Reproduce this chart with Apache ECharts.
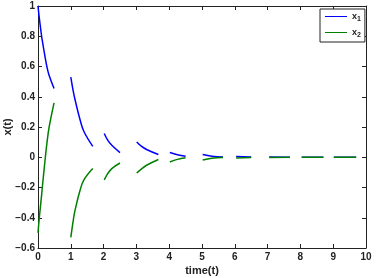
<!DOCTYPE html>
<html>
<head>
<meta charset="utf-8">
<script src="https://cdn.jsdelivr.net/npm/echarts@6/dist/echarts.min.js"></script>
<style>
  html, body { margin: 0; padding: 0; background: #fff; }
  #box { width: 376px; height: 278px; }
</style>
</head>
<body>
<div id="box"></div>
<script>
// time points, null values break the line (impulse gaps)
const t  = [0, 0.04, 0.11, 0.14, 0.21, 0.27, 0.34, 0.49, 0.7,
            1.0, 1.08, 1.13, 1.28, 1.4, 1.67, 1.85,
            2.02, 2.12, 2.25, 2.5, 2.75,
            3.01, 3.15, 3.31, 3.67, 3.85,
            4.02, 4.25, 4.5, 4.75,
            5.02, 5.3, 5.64, 5.8,
            6.04, 6.5, 6.75,
            7.05, 7.68, 7.85,
            8.04, 8.7, 8.85,
            9.02, 9.7];
const x1 = [1.0, 0.92, 0.8, 0.76, 0.67, 0.6, 0.54, 0.455, null,
            0.53, 0.43, 0.38, 0.25, 0.17, 0.072, null,
            0.157, 0.115, 0.079, 0.031, null,
            0.101, 0.073, 0.051, 0.018, null,
            0.031, 0.016, 0.007, null,
            0.018, 0.007, 0.002, null,
            0.005, 0.001, null,
            0.002, 0, null,
            0, 0, null,
            0, 0];
const x2 = [-0.5, -0.4, -0.25, -0.18, -0.03, 0.09, 0.2, 0.36, null,
            -0.53, -0.41, -0.35, -0.22, -0.15, -0.075, null,
            -0.15, -0.11, -0.075, -0.038, null,
            -0.104, -0.078, -0.053, -0.015, null,
            -0.031, -0.014, -0.004, null,
            -0.018, -0.007, -0.002, null,
            -0.005, -0.001, null,
            -0.002, 0, null,
            0, 0, null,
            0, 0];
const names = ["x1", "x2"];
const colors = ["#0000ff", "#008000"];

let chart = echarts.init(document.getElementById("box"), null, { renderer: "canvas" });

const font = "'Liberation Sans', Arial, sans-serif";
const fmtY = v => (v < 0 ? "\u2212" + Math.abs(v) : String(v));

function axisBase(extra) {
  return Object.assign({
    type: "value",
    axisLine: { show: true, onZero: false, lineStyle: { color: "#222", width: 1 } },
    axisTick: { show: true, inside: true, length: 4, lineStyle: { color: "#222" } },
    splitLine: { show: false },
    axisLabel: { color: "#222", fontSize: 10, fontWeight: "bold", fontFamily: font }
  }, extra);
}

let series = [x1, x2].map((arr, k) => ({
  type: "line",
  name: names[k],
  xAxisIndex: 0,
  yAxisIndex: 0,
  symbol: "none",
  smooth: 0.4,
  connectNulls: false,
  color: colors[k],
  lineStyle: { width: 1.5, color: colors[k] },
  data: t.map((ti, i) => [ti, arr[i] == null ? "-" : arr[i]])
}));

let option = {
  animation: false,
  backgroundColor: "#fff",
  grid: { left: 38, right: 10, top: 6, bottom: 30, containLabel: false, outerBoundsMode: "none" },
  legend: {
    left: 320, top: 9,
    orient: "vertical",
    backgroundColor: "#fff",
    borderColor: "#222", borderWidth: 1,
    padding: [3, 4, 3, 5],
    icon: "rect",
    itemWidth: 22, itemHeight: 1, itemGap: 5,
    textStyle: {
      color: "#222", fontFamily: font,
      rich: {
        b: { fontSize: 9, fontWeight: "bold", fontFamily: font, color: "#222" },
        s: { fontSize: 7, fontWeight: "bold", fontFamily: font, color: "#222", padding: [6, 0, 0, 0] }
      }
    },
    formatter: n => "{b|x}{s|" + n.slice(1) + "}",
    data: names
  },
  xAxis: [
    axisBase({
      min: 0, max: 10, interval: 1, position: "bottom",
      axisLabel: { color: "#222", fontSize: 10, fontWeight: "bold", fontFamily: font, margin: 4 },
      name: "time(t)", nameLocation: "middle", nameGap: 17, nameMoveOverlap: false,
      nameTextStyle: { color: "#222", fontSize: 11, fontWeight: "bold", fontFamily: font }
    }),
    axisBase({ min: 0, max: 10, interval: 1, position: "top", axisLabel: { show: false } })
  ],
  yAxis: [
    axisBase({
      min: -0.6, max: 1, interval: 0.2, position: "left",
      axisLabel: { color: "#222", fontSize: 10, fontWeight: "bold", fontFamily: font, margin: 3,
                   formatter: fmtY },
      name: "x(t)", nameLocation: "middle", nameGap: 25, nameRotate: 90, nameMoveOverlap: false,
      nameTextStyle: { color: "#222", fontSize: 11, fontWeight: "bold", fontFamily: font }
    }),
    axisBase({ min: -0.6, max: 1, interval: 0.2, position: "right", axisLabel: { show: false } })
  ],
  series: series
};

chart.setOption(option);
</script>
</body>
</html>
